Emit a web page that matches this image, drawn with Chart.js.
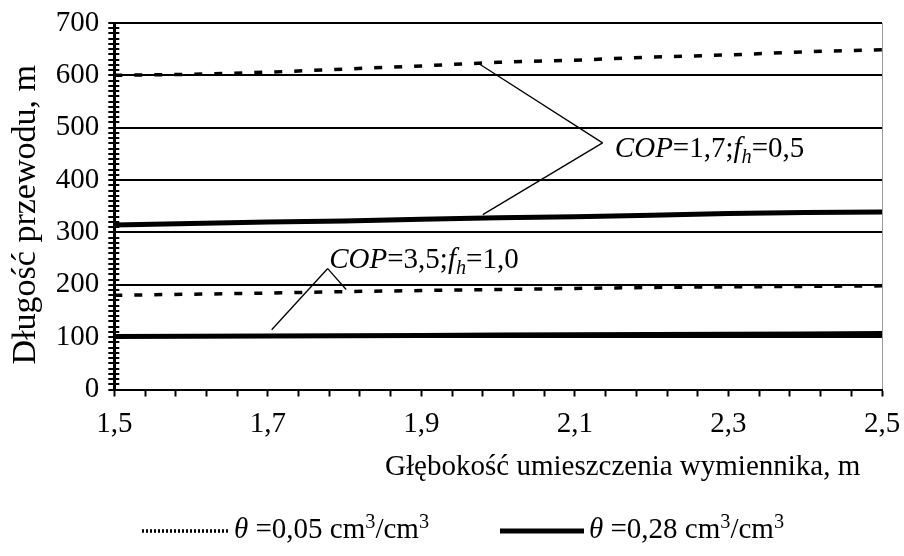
<!DOCTYPE html>
<html>
<head>
<meta charset="utf-8">
<script src="https://cdn.jsdelivr.net/npm/chart.js@4.4.0/dist/chart.umd.min.js"></script>
<style>
  body { margin: 0; background: #fff; }
  #wrap { width: 904px; height: 556px; }
</style>
</head>
<body>
<div id="wrap"><canvas id="chart" width="904" height="556"></canvas></div>
<script>
// depth of the exchanger, m
const DEPTH = [1.5, 1.6, 1.7, 1.8, 1.9, 2.0, 2.1, 2.2, 2.3, 2.4, 2.5];

// pipe length, m  (COP=1,7; fh=0,5)
const LEN_COP17_DRY = [600, 602, 606, 612, 618, 625, 629, 635, 639, 645, 649];
const LEN_COP17_WET = [314, 317, 320, 322, 325, 328, 330, 333, 336, 338, 339];
// pipe length, m  (COP=3,5; fh=1,0)
const LEN_COP35_DRY = [180, 182, 184, 187, 189, 191, 193, 195, 196, 197, 198];
const LEN_COP35_WET = [101, 101.5, 102, 102.5, 103, 104, 104.5, 105, 105.5, 106, 107];

const SERIES_LABELS = ['θ =0,05 cm³/cm³', 'θ =0,28 cm³/cm³'];
const X_TICK_LABELS = ['1,5', '1,7', '1,9', '2,1', '2,3', '2,5'];
const Y_TICK_LABELS = ['0', '100', '200', '300', '400', '500', '600', '700'];

const FONT = '"Liberation Serif", "Times New Roman", serif';

function pts(ys) {
    return DEPTH.map((d, i) => ({ x: d, y: ys[i] }));
}

function dryLine(label, ys) {
    return { label: label, data: pts(ys), borderColor: '#000', borderWidth: 3.5,
             borderDash: [8, 12], pointRadius: 0, tension: 0, legendDash: [2, 2] };
}
function wetLine(label, ys) {
    return { label: label, data: pts(ys), borderColor: '#000', borderWidth: 5,
             pointRadius: 0, tension: 0, legendDash: [] };
}

// text pieces: it = italic, sub/sup = sub/superscript
function drawRich(ctx, parts, x, y, size) {
    ctx.textAlign = 'left';
    ctx.textBaseline = 'alphabetic';
    ctx.fillStyle = '#000';
    parts.forEach(p => {
        const s = (p.sub || p.sup) ? size * 0.7 : size;
        ctx.font = (p.it ? 'italic ' : '') + s + 'px ' + FONT;
        const dy = p.sub ? size * 0.22 : p.sup ? -size * 0.36 : 0;
        ctx.fillText(p.t, x, y + dy);
        x += ctx.measureText(p.t).width;
    });
}

function labelParts(str) {
    const parts = [];
    for (const ch of str) {
        if (ch === 'θ') parts.push({ t: ch, it: true });
        else if (ch === '³') parts.push({ t: '3', sup: true });
        else parts.push({ t: ch });
    }
    return parts;
}

// callouts, anchored in data units
const NOTES = [
    { text: [{ t: 'COP', it: true }, { t: '=1,7;' }, { t: 'f', it: true }, { t: 'h', it: true, sub: true }, { t: '=0,5' }],
      at: [2.152, 444], apex: [2.136, 471], legs: [[1.973, 624], [1.980, 334]] },
    { text: [{ t: 'COP', it: true }, { t: '=3,5;' }, { t: 'f', it: true }, { t: 'h', it: true, sub: true }, { t: '=1,0' }],
      at: [1.780, 233], apex: [1.778, 231], legs: [[1.705, 114], [1.802, 191]] }
];

const decor = {
    id: 'decor',
    afterDraw(chart) {
        const { ctx, scales: { x, y } } = chart;
        ctx.save();
        // inner half of the y ticks
        ctx.strokeStyle = '#000';
        ctx.lineWidth = 2;
        y.ticks.forEach(t => {
            const py = Math.round(y.getPixelForValue(t.value));
            ctx.beginPath();
            ctx.moveTo(x.left, py);
            ctx.lineTo(x.left + 5, py);
            ctx.stroke();
        });
        // callouts
        ctx.lineWidth = 1.3;
        NOTES.forEach(n => {
            const ax = x.getPixelForValue(n.apex[0]), ay = y.getPixelForValue(n.apex[1]);
            n.legs.forEach(l => {
                ctx.beginPath();
                ctx.moveTo(ax, ay);
                ctx.lineTo(x.getPixelForValue(l[0]), y.getPixelForValue(l[1]));
                ctx.stroke();
            });
            drawRich(ctx, n.text, x.getPixelForValue(n.at[0]), y.getPixelForValue(n.at[1]), 29);
        });
        // legend
        const items = [{ x0: 142, x1: 229, tx: 234 }, { x0: 500, x1: 584, tx: 589 }];
        items.forEach((it, i) => {
            const ds = chart.data.datasets[i];
            ctx.setLineDash(ds.legendDash);
            ctx.lineWidth = ds.borderWidth;
            ctx.beginPath();
            ctx.moveTo(it.x0, 531);
            ctx.lineTo(it.x1, 531);
            ctx.stroke();
            ctx.setLineDash([]);
            drawRich(ctx, labelParts(ds.label), it.tx, 538, 29);
        });
        ctx.restore();
    }
};

new Chart(document.getElementById('chart'), {
    type: 'line',
    data: {
        datasets: [
            dryLine(SERIES_LABELS[0], LEN_COP17_DRY),
            wetLine(SERIES_LABELS[1], LEN_COP17_WET),
            dryLine(SERIES_LABELS[0], LEN_COP35_DRY),
            wetLine(SERIES_LABELS[1], LEN_COP35_WET)
        ]
    },
    options: {
        responsive: false,
        animation: false,
        layout: { padding: { left: 6, right: 0, top: 0, bottom: 74.5 } },
        plugins: { legend: { display: false }, tooltip: { enabled: false } },
        scales: {
            x: {
                type: 'linear',
                min: 1.5, max: 2.5,
                border: { color: '#000', width: 2 },
                grid: {
                    color: c => (c.tick && c.tick.value === 2.5) ? '#999' : 'rgba(0,0,0,0)',
                    lineWidth: 1,
                    tickColor: '#000', tickWidth: 2, tickLength: 7
                },
                ticks: {
                    stepSize: 0.04, autoSkip: false, maxRotation: 0, padding: 13,
                    color: '#000', font: { family: FONT, size: 29, lineHeight: 1 },
                    callback: (v, i) => i % 5 === 0 ? X_TICK_LABELS[i / 5] : ''
                },
                title: {
                    display: true, align: 'end',
                    text: 'Głębokość umieszczenia wymiennika, m   ',
                    color: '#000', font: { family: FONT, size: 29, lineHeight: 1 },
                    padding: { top: 0, bottom: 0 }
                },
                afterFit: s => { s.height = 92; s.paddingRight = 22; }
            },
            y: {
                min: 0, max: 700,
                border: { color: '#000', width: 3 },
                grid: {
                    color: c => (c.tick && c.tick.value % 100 === 0 && c.tick.value > 0) ? '#000' : 'rgba(0,0,0,0)',
                    lineWidth: 2,
                    tickColor: '#000', tickWidth: 2, tickLength: 6
                },
                ticks: {
                    stepSize: 10, autoSkip: false, padding: 9,
                    color: '#000', font: { family: FONT, size: 29 },
                    callback: v => v % 100 === 0 ? Y_TICK_LABELS[v / 100] : ''
                },
                title: {
                    display: true, text: 'Długość przewodu, m  ',
                    color: '#000', font: { family: FONT, size: 34, lineHeight: 1.2 },
                    padding: { top: 0, bottom: 0 }
                },
                afterFit: s => { s.paddingTop = 23; }
            }
        }
    },
    plugins: [decor]
});
</script>
</body>
</html>
